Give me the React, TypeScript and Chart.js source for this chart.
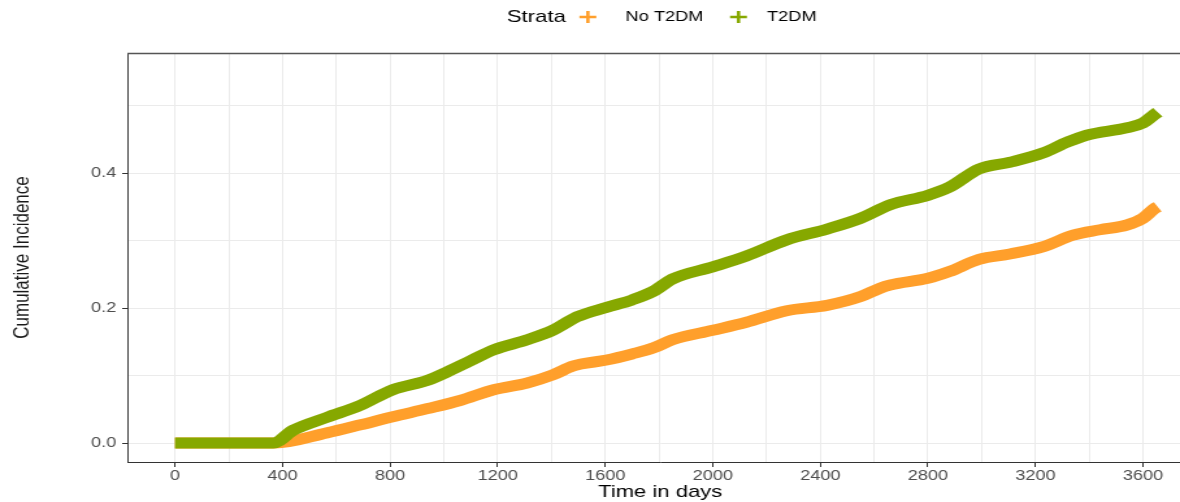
import React, { useEffect, useRef } from "react";
import { Chart, registerables } from "chart.js";

Chart.register(...registerables);

// ---- data ----
const legendTitle = "Strata";
const seriesNames = ["No T2DM", "T2DM"];

const noT2dmDays = [0, 370, 565, 690, 810, 940, 1060, 1185, 1310, 1405, 1480, 1510, 1605, 1700, 1780, 1850, 2000, 2125, 2275, 2425, 2550, 2620, 2660, 2800, 2880, 2990, 3105, 3230, 3340, 3440, 3540, 3600, 3645, 3655];
const noT2dmIncidence = [0, 0, 0.015, 0.027, 0.039, 0.051, 0.063, 0.079, 0.089, 0.101, 0.114, 0.117, 0.123, 0.132, 0.141, 0.153, 0.167, 0.179, 0.196, 0.204, 0.217, 0.229, 0.234, 0.244, 0.254, 0.272, 0.28, 0.291, 0.308, 0.316, 0.323, 0.333, 0.348, 0.35];

const t2dmDays = [0, 365, 440, 565, 690, 810, 940, 1010, 1100, 1185, 1310, 1405, 1450, 1495, 1605, 1700, 1780, 1850, 2000, 2125, 2275, 2425, 2550, 2660, 2800, 2880, 2990, 3105, 3230, 3320, 3390, 3540, 3600, 3640, 3655];
const t2dmIncidence = [0, 0, 0.019, 0.038, 0.056, 0.079, 0.093, 0.105, 0.122, 0.138, 0.153, 0.167, 0.177, 0.187, 0.201, 0.212, 0.225, 0.243, 0.261, 0.277, 0.301, 0.317, 0.333, 0.353, 0.367, 0.379, 0.406, 0.416, 0.43, 0.446, 0.456, 0.467, 0.474, 0.486, 0.49];

// tick labels (major) and grid positions (major + minor)
const xTickLabels = [0, 400, 800, 1200, 1600, 2000, 2400, 2800, 3200, 3600];
const xGridValues = [0, 200, 400, 600, 800, 1000, 1200, 1400, 1600, 1800, 2000, 2200, 2400, 2600, 2800, 3000, 3200, 3400, 3600];
const yTickLabels = [0, 0.2, 0.4];
const yGridValues = [0, 0.1, 0.2, 0.3, 0.4, 0.5];

const xTitle = "Time in days";
const yTitle = "Cumulative Incidence";

// ---- styling ----
const X_STRETCH = 1.3;
const CANVAS_W = 918;
const CANVAS_H = 502;
const ORANGE = "#FF9F2B";
const GREEN = "#86A800";
const GRID = "#EBEBEB";
const AXIS = "#333333";
const FONT = "'Liberation Sans', Arial, sans-serif";

const isMajorX = (v: number) => xTickLabels.some((t) => Math.abs(t - v) < 1e-6);
const isMajorY = (v: number) => yTickLabels.some((t) => Math.abs(t - v) < 1e-6);

const frameAndLegend = {
  id: "frameAndLegend",
  afterDraw(chart: any) {
    const { ctx, chartArea } = chart;
    ctx.save();
    // top panel border
    ctx.strokeStyle = "#555555";
    ctx.lineWidth = 1.4;
    ctx.beginPath();
    ctx.moveTo(chartArea.left, chartArea.top + 0.5);
    ctx.lineTo(chart.width, chartArea.top + 0.5);
    ctx.stroke();

    // legend
    const y = 17;
    ctx.textBaseline = "middle";
    ctx.textAlign = "left";
    ctx.fillStyle = "#000000";
    ctx.font = `17px ${FONT}`;
    let x = 390;
    ctx.fillText(legendTitle, x, y);
    x += ctx.measureText(legendTitle).width;
    const colors = [ORANGE, GREEN];
    ctx.font = `14px ${FONT}`;
    seriesNames.forEach((name, i) => {
      const cx = x + (i === 0 ? 17 : 27);
      ctx.strokeStyle = colors[i];
      ctx.lineWidth = 2.6;
      ctx.beginPath();
      ctx.moveTo(cx - 6.5, y);
      ctx.lineTo(cx + 6.5, y);
      ctx.moveTo(cx, y - 6);
      ctx.lineTo(cx, y + 6);
      ctx.stroke();
      const tx = cx + (i === 0 ? 29 : 22);
      ctx.fillStyle = "#000000";
      ctx.fillText(name, tx, y);
      x = tx + ctx.measureText(name).width;
    });
    ctx.restore();
  },
};

export default function App() {
  const canvasRef = useRef<HTMLCanvasElement | null>(null);

  useEffect(() => {
    if (!canvasRef.current) return;
    const chart = new Chart(canvasRef.current, {
      type: "line",
      data: {
        datasets: [
          {
            label: seriesNames[0],
            data: noT2dmDays.map((d, i) => ({ x: d, y: noT2dmIncidence[i] })),
            borderColor: ORANGE,
            backgroundColor: ORANGE,
            borderWidth: 11,
            pointRadius: 0,
            cubicInterpolationMode: "monotone",
            borderCapStyle: "butt",
            borderJoinStyle: "round",
            order: 1,
          },
          {
            label: seriesNames[1],
            data: t2dmDays.map((d, i) => ({ x: d, y: t2dmIncidence[i] })),
            borderColor: GREEN,
            backgroundColor: GREEN,
            borderWidth: 11,
            pointRadius: 0,
            cubicInterpolationMode: "monotone",
            borderCapStyle: "butt",
            borderJoinStyle: "round",
            order: 0,
          },
        ],
      },
      options: {
        animation: false,
        responsive: false,
        devicePixelRatio: 1,
        layout: { padding: { top: 53, right: 0, left: 0, bottom: 0 } },
        plugins: {
          legend: { display: false },
          tooltip: { enabled: false },
        },
        scales: {
          x: {
            type: "linear",
            min: -177.2,
            max: 3786,
            afterBuildTicks: (scale: any) => {
              scale.ticks = xGridValues.map((v) => ({ value: v }));
            },
            afterFit: (scale: any) => {
              scale.height = 40;
            },
            border: { display: true, color: AXIS, width: 1 },
            grid: {
              color: GRID,
              lineWidth: 1,
              drawTicks: true,
              tickLength: 5,
              tickWidth: 1,
              tickColor: (ctx: any) => (ctx.tick && isMajorX(ctx.tick.value) ? AXIS : "rgba(0,0,0,0)"),
            },
            ticks: {
              autoSkip: false,
              maxRotation: 0,
              padding: 1,
              color: "#4D4D4D",
              font: { family: FONT, size: 14 },
              callback: (v: any) => (isMajorX(Number(v)) ? String(v) : ""),
            },
            title: {
              display: true,
              text: xTitle,
              color: "#000000",
              font: { family: FONT, size: 17, lineHeight: 1.1 },
              padding: { top: 0, bottom: 0 },
            },
          },
          y: {
            type: "linear",
            min: -0.0281,
            max: 0.5778,
            afterBuildTicks: (scale: any) => {
              scale.ticks = yGridValues.map((v) => ({ value: v }));
            },
            afterFit: (scale: any) => {
              scale.width = 98;
            },
            border: { display: true, color: AXIS, width: 1 },
            grid: {
              color: GRID,
              lineWidth: 1,
              drawTicks: true,
              tickLength: 4,
              tickWidth: 1,
              tickColor: (ctx: any) => (ctx.tick && isMajorY(ctx.tick.value) ? AXIS : "rgba(0,0,0,0)"),
            },
            ticks: {
              autoSkip: false,
              padding: 4.5,
              color: "#4D4D4D",
              font: { family: FONT, size: 14 },
              callback: (v: any) => (isMajorY(Number(v)) ? Number(v).toFixed(1) : ""),
            },
            title: {
              display: true,
              text: yTitle,
              color: "#1A1A1A",
              font: { family: FONT, size: 17 },
              padding: { top: 7, bottom: 0 },
            },
          },
        },
      } as any,
      plugins: [frameAndLegend],
    });
    return () => chart.destroy();
  }, []);

  return (
    <div
      style={{
        position: "fixed",
        left: 0,
        top: 0,
        width: 1180,
        height: 502,
        overflow: "hidden",
        background: "#ffffff",
      }}
    >
      <canvas
        ref={canvasRef}
        width={CANVAS_W}
        height={CANVAS_H}
        style={{ width: `${CANVAS_W * X_STRETCH}px`, height: `${CANVAS_H}px`, display: "block" }}
      />
    </div>
  );
}
